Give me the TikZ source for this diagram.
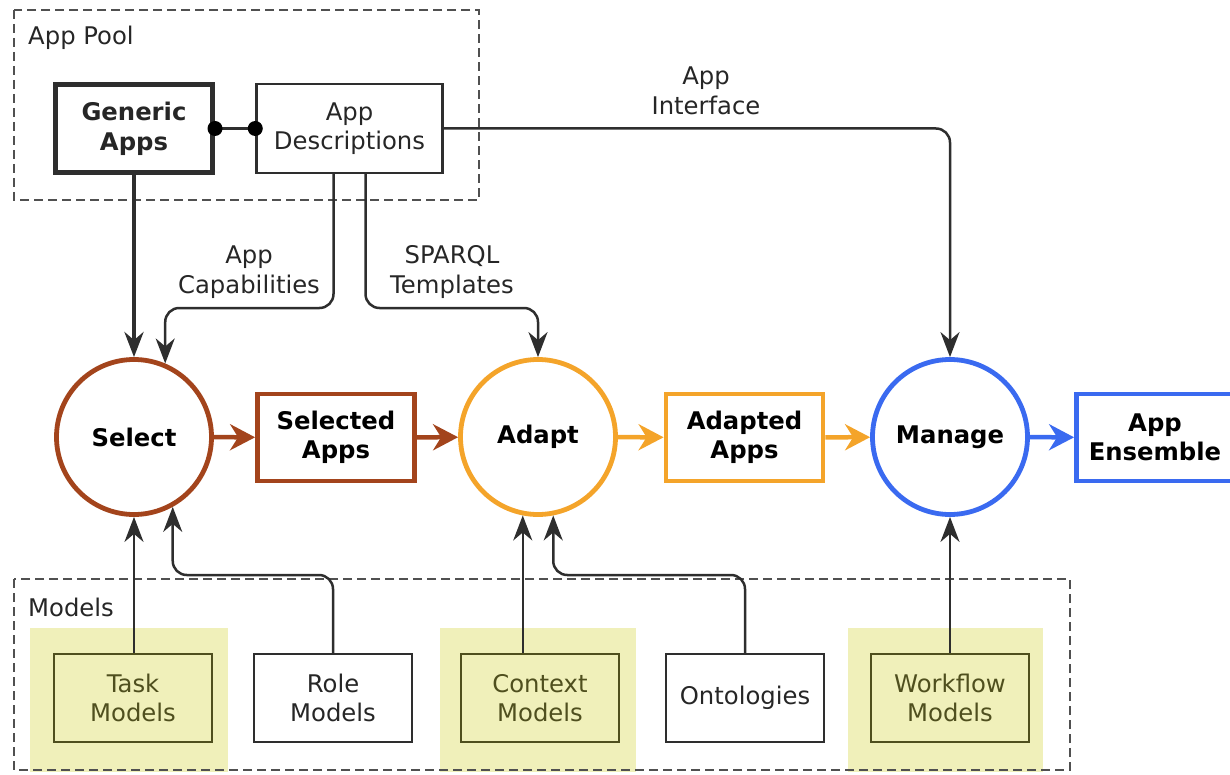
\documentclass[tikz,border=0pt]{standalone}
\usepackage{fontspec}
\setmainfont{DejaVu Sans}
\usetikzlibrary{arrows.meta,calc}

\definecolor{selbrown}{HTML}{A3441C}
\definecolor{adaorange}{HTML}{F4A42A}
\definecolor{manblue}{HTML}{3A6AF0}
\definecolor{hilite}{HTML}{F0F0BA}
\definecolor{modelink}{HTML}{4F4F1E}
\definecolor{linegray}{HTML}{2E2E2E}
\definecolor{dashgray}{HTML}{505050}

\begin{document}
\begin{tikzpicture}[x=1pt,y=-1pt,
  font=\fontsize{24.3}{29.5}\selectfont,
  box/.style={draw=linegray, line width=2.5pt, minimum width=158pt,
    minimum height=88pt, align=center, inner sep=0pt, text=black!85},
  modelbox/.style={box, draw=modelink, text=modelink},
  stagebox/.style={draw=#1, line width=4.8pt, minimum width=157pt,
    minimum height=87pt, align=center, inner sep=0pt,
    font=\fontsize{24.3}{29.5}\selectfont\bfseries},
  stage/.style={circle, draw=#1, line width=4.8pt, minimum size=155pt,
    inner sep=0pt, font=\fontsize{24.3}{29.5}\selectfont\bfseries},
  group/.style={draw=dashgray, line width=2.5pt, dash pattern=on 9pt off 5pt},
  grouplabel/.style={anchor=west, inner sep=0pt, text=black!85},
  hl/.style={fill=hilite, draw=none},
  conn/.style={draw=linegray, line width=2.5pt, rounded corners=14pt,
    -{Stealth[length=25pt,width=19pt,inset=8pt]}},
  flow/.style={draw=#1, line width=4.5pt,
    -{Stealth[length=25pt,width=26pt,inset=8pt,fill=#1]}},
  lbl/.style={align=center, inner sep=0pt, text=black!85},
]
\useasboundingbox (0,0) rectangle (1230,775);

% highlighted model groups (behind everything)
\fill[hl] (30,628) rectangle (228,772);
\fill[hl] (440,628) rectangle (636,772);
\fill[hl] (848,628) rectangle (1043,772);

% grouping frames
\draw[group] (14,10) rectangle (479,200);
\node[grouplabel] (poollbl) at (28,38) {App Pool};
\draw[group] (14,579) rectangle (1070,770);
\node[grouplabel] (modelslbl) at (28,607) {Models};

% app pool
\node[box, line width=5pt, minimum width=157pt, minimum height=88pt,
  font=\fontsize{24.3}{29.5}\selectfont\bfseries] (ga) at (134,129) {Generic\\Apps};
\node[box, minimum width=186pt, minimum height=89pt] (ad) at (349.5,128.5) {App\\Descriptions};

% process stages
\node[stage=selbrown] (sel) at (134,437) {Select};
\node[stagebox=selbrown] (sapps) at (336,437.5) {Selected\\Apps};
\node[stage=adaorange] (adp) at (538,437) {Adapt};
\node[stagebox=adaorange] (aapps) at (744.5,437.5) {Adapted\\Apps};
\node[stage=manblue] (man) at (950,437) {Manage};
\node[stagebox=manblue] (ens) at (1155,437.5) {App\\Ensemble};

% models
\node[modelbox] (task) at (133,698) {Task\\Models};
\node[box] (role) at (333,698) {Role\\Models};
\node[modelbox] (ctx) at (540,698) {Context\\Models};
\node[box] (onto) at (745,698) {Ontologies};
\node[modelbox] (wf) at (950,698) {Workflow\\Models};

% link between generic apps and their descriptions
\draw[linegray, line width=2.5pt] (ga.east |- ad.west) -- (ad.west);
\fill[black] (ga.east |- ad.west) circle (7.5pt);
\fill[black] (ad.west) circle (7.5pt);

% inputs from the app pool
\draw[conn, line width=4pt] (ga.south) -- (sel.north);
\draw[conn] ([xshift=-16pt]ad.south) |- (sel.67 |- 0,308) -- (sel.67);
\draw[conn] ([xshift=16pt]ad.south) |- (adp.north |- 0,308) -- (adp.north);
\draw[conn] (ad.east) -| (man.north);

\node[lbl] (caplbl) at (249,272) {App\\Capabilities};
\node[lbl] (sparqllbl) at (452,272) {SPARQL\\Templates};
\node[lbl] (ifacelbl) at (706,91) {App\\Interface};

% main flow
\draw[flow=selbrown] (sel) -- (sapps);
\draw[flow=selbrown] (sapps) -- (adp);
\draw[flow=adaorange] (adp) -- (aapps);
\draw[flow=adaorange] (aapps) -- (man);
\draw[flow=manblue] (man) -- (ens);

% inputs from the models
\draw[conn] (sel.south |- task.north) -- (sel.south);
\draw[conn] (role.north) |- (sel.-61 |- 0,575) -- (sel.-61);
\draw[conn] (adp.-101.5 |- ctx.north) -- (adp.-101.5);
\draw[conn] (onto.north) |- (adp.-79 |- 0,575) -- (adp.-79);
\draw[conn] (wf.north) -- (man.south);
\end{tikzpicture}
\end{document}
